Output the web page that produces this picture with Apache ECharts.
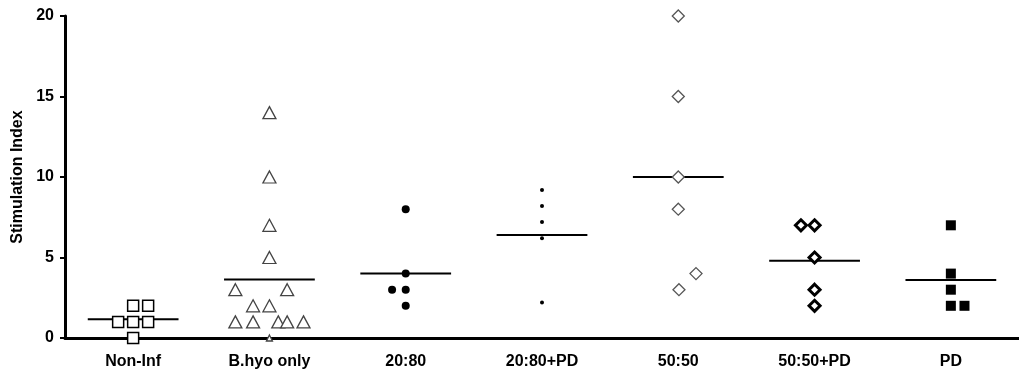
<!DOCTYPE html>
<html>
<head>
<meta charset="utf-8">
<script src="https://cdn.jsdelivr.net/npm/echarts@6/dist/echarts.min.js"></script>
<style>
  html, body { margin: 0; padding: 0; background: #fff; }
  #chart { width: 1019px; height: 377px; }
</style>
</head>
<body>
<div id="chart"></div>
<script>
// categories along the x axis
const categories = ["Non-Inf", "B.hyo only", "20:80", "20:80+PD", "50:50", "50:50+PD", "PD"];
const yTicks = [0, 5, 10, 15, 20];

// values per group, plus horizontal spread (in category widths) of each point
const nonInfValues = [2, 2, 1, 1, 1, 0];
const nonInfSpread = [0, 0.11, -0.11, 0, 0.11, 0];
const bhyoValues = [14, 10, 7, 5, 3, 3, 2, 2, 1, 1, 1, 1, 1, 0];
const bhyoSpread = [0, 0, 0, 0, -0.25, 0.13, -0.12, 0, -0.25, -0.12, 0.065, 0.13, 0.25, 0];
const r2080Values = [8, 4, 3, 3, 2];
const r2080Spread = [0, 0, -0.1, 0, 0];
const r2080pdValues = [9.2, 8.2, 7.2, 6.2, 2.2];
const r2080pdSpread = [0, 0, 0, 0, 0];
const r5050Values = [20, 15, 10, 8, 4, 3];
const r5050Spread = [0, 0, 0, 0, 0.13, 0.005];
const r5050pdValues = [7, 7, 5, 3, 2];
const r5050pdSpread = [-0.1, 0, 0, 0, 0];
const pdValues = [7, 4, 3, 2, 2];
const pdSpread = [0, 0, 0, 0, 0.1];

// group means drawn as horizontal bars
const groupMeans = [1.17, 3.64, 4, 6.4, 10, 4.8, 3.6];

const groups = [
  { values: nonInfValues, spread: nonInfSpread,
    symbol: "rect", size: 11, item: { color: "#fff", borderColor: "#000", borderWidth: 1.5 } },
  { values: bhyoValues, spread: bhyoSpread,
    symbol: "triangle", size: [13, 12], item: { color: "#fff", borderColor: "#444", borderWidth: 1.3 } },
  { values: r2080Values, spread: r2080Spread,
    symbol: "circle", size: 8, item: { color: "#000" } },
  { values: r2080pdValues, spread: r2080pdSpread,
    symbol: "circle", size: 4, item: { color: "#000" } },
  { values: r5050Values, spread: r5050Spread,
    symbol: "diamond", size: 12, item: { color: "#fff", borderColor: "#555", borderWidth: 1.3 } },
  { values: r5050pdValues, spread: r5050pdSpread,
    symbol: "diamond", size: 11, item: { color: "#fff", borderColor: "#000", borderWidth: 3 } },
  { values: pdValues, spread: pdSpread,
    symbol: "rect", size: 10, item: { color: "#000" } },
];

const font = "'Liberation Sans', Arial, sans-serif";
const chart = echarts.init(document.getElementById("chart"));

const series = [];
groups.forEach((g, i) => {
  series.push({
    type: "line",
    xAxisIndex: 1,
    data: [[i - 0.333, groupMeans[i]], [i + 0.333, groupMeans[i]]],
    symbol: "none",
    lineStyle: { color: "#000", width: 2 },
    z: 2,
    silent: true,
  });
  series.push({
    type: "scatter",
    xAxisIndex: 1,
    data: g.values.map((v, k) => [i + g.spread[k], v]),
    symbol: g.symbol,
    symbolSize: g.size,
    itemStyle: Object.assign({ opacity: 1 }, g.item),
    z: 3,
  });
});
// the zero point of B.hyo only is a tiny mark on the axis
series[3].data[13] = { value: [1, 0], symbolSize: [6, 6] };

chart.setOption({
  animation: false,
  backgroundColor: "#fff",
  textStyle: { fontFamily: font },
  grid: { left: 65, top: 16, width: 966, height: 322 },
  xAxis: [
    {
      type: "category",
      data: categories,
      axisLine: { onZero: false, lineStyle: { color: "#000", width: 3 } },
      axisTick: { alignWithLabel: true, length: 6, lineStyle: { color: "#000", width: 2 } },
      axisLabel: { color: "#000", fontWeight: "bold", fontSize: 16, fontFamily: font, margin: 16 },
      splitLine: { show: false },
    },
    { type: "value", min: -0.5, max: 6.5, show: false },
  ],
  yAxis: {
    type: "value",
    min: yTicks[0],
    max: yTicks[yTicks.length - 1],
    interval: yTicks[1] - yTicks[0],
    name: "Stimulation Index",
    nameLocation: "middle",
    nameGap: 38,
    nameTextStyle: { color: "#000", fontWeight: "bold", fontSize: 16, fontFamily: font },
    axisLine: { show: true, onZero: false, lineStyle: { color: "#000", width: 3 } },
    axisTick: { show: true, length: 5, lineStyle: { color: "#000", width: 2 } },
    axisLabel: { color: "#000", fontWeight: "bold", fontSize: 16, fontFamily: font, margin: 11 },
    splitLine: { show: false },
  },
  series: series,
});
</script>
</body>
</html>
